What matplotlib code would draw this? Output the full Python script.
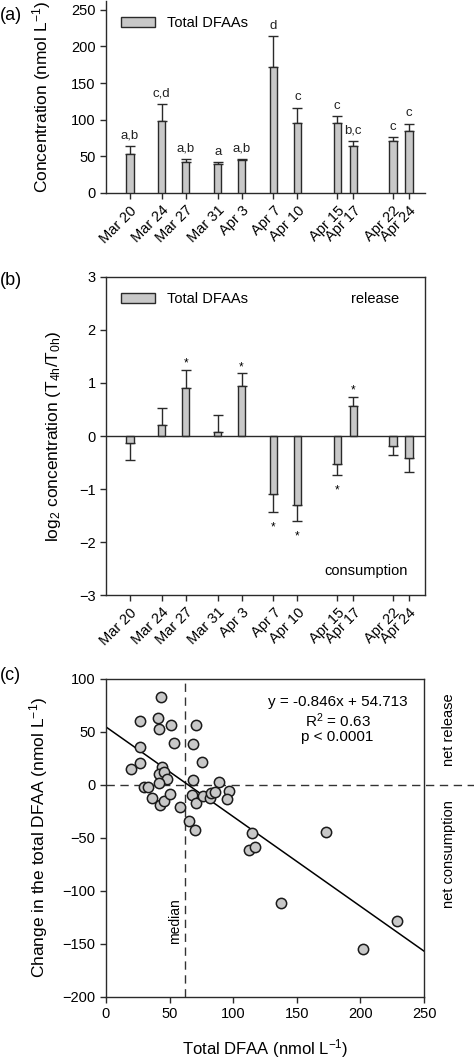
import numpy as np
import matplotlib.pyplot as plt
from matplotlib.patches import Patch

plt.rcParams['font.family'] = ['Liberation Sans', 'DejaVu Sans']
plt.rcParams['font.size'] = 10.5
plt.rcParams['axes.linewidth'] = 1.0
plt.rcParams['mathtext.default'] = 'regular'

# sampling dates (days after Mar 20)
dates = ['Mar 20', 'Mar 24', 'Mar 27', 'Mar 31', 'Apr 3', 'Apr 7',
         'Apr 10', 'Apr 15', 'Apr 17', 'Apr 22', 'Apr 24']
day = [0, 4, 7, 11, 14, 18, 21, 26, 28, 33, 35]

# (a) total DFAA concentration
conc = [53.5, 98.5, 42, 39, 45.5, 172.5, 95.5, 95.5, 63.5, 71, 84]
conc_err = [10.5, 22.5, 5, 3, 1.5, 41, 21, 9, 7, 5, 10.5]
letters = ['a,b', 'c,d', 'a,b', 'a', 'a,b', 'd', 'c', 'c', 'b,c', 'c', 'c']

# (b) log2 ratio T4h/T0h
log_ratio = [-0.13, 0.21, 0.905, 0.08, 0.95, -1.09, -1.30, -0.525, 0.57, -0.18, -0.42]
log_err = [0.33, 0.31, 0.335, 0.31, 0.23, 0.35, 0.31, 0.215, 0.17, 0.17, 0.26]
signif = [False, False, True, False, True, True, True, True, True, False, False]

# (c) change vs initial concentration
dfaa_x = [43.2, 41.1, 26.7, 41.9, 50.8, 70.7, 68.1, 53.1, 26.7, 75.1, 27.0, 19.4,
          44.2, 41.4, 45.8, 48.2, 41.9, 68.6, 88.5, 29.8, 33.0, 35.9, 42.4, 45.5,
          50.5, 58.1, 64.9, 70.2, 67.3, 70.7, 75.9, 81.4, 82.5, 85.6, 96.3, 95.0,
          114.7, 112.8, 117.5, 172.8, 137.4, 228.8, 202.1]
dfaa_change = [83.3, 63.5, 60.3, 52.8, 56.9, 56.2, 38.3, 39.6, 36.1, 21.7, 20.4, 15.1,
               17.0, 10.1, 12.6, 6.0, 1.6, 4.7, 2.5, -1.9, -1.9, -12.6, -18.8, -15.1,
               -8.8, -20.7, -33.9, -42.4, -9.4, -17.3, -10.4, -12.3, -7.2, -6.6, -5.7, -13.2,
               -44.9, -61.6, -58.1, -44.6, -111.8, -128.8, -154.3]
slope, intercept = -0.846, 54.713
median_dfaa = 62

bar_fc = '#c8c8c8'
edge = '#2a2a2a'

fig = plt.figure(figsize=(4.74, 10.58), dpi=100)
ax_a = fig.add_axes([0.2236, 0.8176, 0.673, 0.1815])
ax_b = fig.add_axes([0.2236, 0.4376, 0.673, 0.3006])
ax_c = fig.add_axes([0.2236, 0.0577, 0.671, 0.3006])

day = np.array(day)


def one_sided(vals, errs):
  lo = [e if v < 0 else 0 for v, e in zip(vals, errs)]
  hi = [e if v >= 0 else 0 for v, e in zip(vals, errs)]
  return [lo, hi]


# ---- (a)
ax_a.bar(day, conc, width=0.9, color=bar_fc, edgecolor=edge, linewidth=1.0, zorder=3)
ax_a.errorbar(day, conc, yerr=one_sided(conc, conc_err), fmt='none', ecolor=edge,
              elinewidth=1.0, capsize=3.5, capthick=1.0, zorder=2)
for d, v, e, l in zip(day, conc, conc_err, letters):
  ax_a.text(d, v + e + 6, l, ha='center', va='bottom', fontsize=9.5, color='#222')
ax_a.set_xlim(-3, 37)
ax_a.set_ylim(0, 262)
ax_a.set_yticks([0, 50, 100, 150, 200, 250])
ax_a.set_xticks(day)
ax_a.set_xticklabels(dates, rotation=45, ha='right', va='top', rotation_mode='anchor')
ax_a.spines['top'].set_visible(False)
ax_a.spines['right'].set_visible(False)
ax_a.set_ylabel('Concentration (nmol L$^{-1}$)', fontsize=12.5)
ax_a.yaxis.set_label_coords(-0.165, 0.5)
ax_a.legend(handles=[Patch(facecolor=bar_fc, edgecolor=edge, label='Total DFAAs')],
            loc='center left', bbox_to_anchor=(0.03, 0.885), frameon=False,
            handlelength=2.3, handleheight=0.65, fontsize=10.5, borderaxespad=0)

# ---- (b)
ax_b.axhline(0, color=edge, linewidth=1.0, zorder=4)
ax_b.bar(day, log_ratio, width=0.9, color=bar_fc, edgecolor=edge, linewidth=1.0, zorder=3)
ax_b.errorbar(day, log_ratio, yerr=one_sided(log_ratio, log_err), fmt='none', ecolor=edge,
              elinewidth=1.0, capsize=3.5, capthick=1.0, zorder=2)
for d, v, e, s in zip(day, log_ratio, log_err, signif):
  if not s:
    continue
  if v >= 0:
    ax_b.text(d, v + e + 0.12, '*', ha='center', va='center', fontsize=8.5)
  else:
    ax_b.text(d, v - e - 0.28, '*', ha='center', va='center', fontsize=8.5)
ax_b.text(0.92, 0.93, 'release', transform=ax_b.transAxes, ha='right', va='center', fontsize=10.5)
ax_b.text(0.945, 0.075, 'consumption', transform=ax_b.transAxes, ha='right', va='center', fontsize=10.5)
ax_b.set_xlim(-3, 37)
ax_b.set_ylim(-3, 3)
ax_b.set_yticks([-3, -2, -1, 0, 1, 2, 3])
ax_b.set_xticks(day)
ax_b.set_xticklabels(dates, rotation=45, ha='right', va='top', rotation_mode='anchor')
ax_b.set_ylabel('log$_2$ concentration (T$_{4h}$/T$_{0h}$)', fontsize=12.5)
ax_b.yaxis.set_label_coords(-0.135, 0.5)
ax_b.legend(handles=[Patch(facecolor=bar_fc, edgecolor=edge, label='Total DFAAs')],
            loc='center left', bbox_to_anchor=(0.03, 0.93), frameon=False,
            handlelength=2.3, handleheight=0.65, fontsize=10.5, borderaxespad=0)

# ---- (c)
fit_x = np.array([0, 250])
ax_c.plot(fit_x, slope * fit_x + intercept, color='black', linewidth=1.1, zorder=2)
ax_c.scatter(dfaa_x, dfaa_change, s=55, facecolor=bar_fc, edgecolor='#1a1a1a',
             linewidth=1.1, zorder=3)
ax_c.plot([0, 291], [0, 0], color='#333', linewidth=1.0, dashes=(6, 4), clip_on=False, zorder=1)
ax_c.axvline(median_dfaa, color='#333', linewidth=1.0, dashes=(6, 4), zorder=1)
ax_c.text(median_dfaa - 8, -128, 'median', rotation=90, ha='center', va='center', fontsize=10)
ax_c.text(182, 78, 'y = -0.846x + 54.713', ha='center', va='center', fontsize=11)
ax_c.text(182, 61, 'R$^2$ = 0.63', ha='center', va='center', fontsize=11)
ax_c.text(182, 45.5, 'p < 0.0001', ha='center', va='center', fontsize=11)
ax_c.text(1.08, 0.84, 'net release', transform=ax_c.transAxes, rotation=90,
          ha='center', va='center', fontsize=10.5)
ax_c.text(1.08, 0.45, 'net consumption', transform=ax_c.transAxes, rotation=90,
          ha='center', va='center', fontsize=10.5)
ax_c.set_xlim(0, 250)
ax_c.set_ylim(-200, 100)
ax_c.set_xticks([0, 50, 100, 150, 200, 250])
ax_c.set_yticks([-200, -150, -100, -50, 0, 50, 100])
ax_c.set_xlabel('Total DFAA (nmol L$^{-1}$)', fontsize=12)
ax_c.set_ylabel('Change in the total DFAA (nmol L$^{-1}$)', fontsize=12.5)
ax_c.yaxis.set_label_coords(-0.176, 0.5)
ax_c.xaxis.set_label_coords(0.5, -0.125)

for ax in (ax_a, ax_b, ax_c):
  ax.tick_params(direction='out', length=4, width=1.0, labelsize=10.5, color=edge)
  for sp in ax.spines.values():
    sp.set_color(edge)

fig.text(0.0, 0.985, '(a)', fontsize=13, va='center')
fig.text(0.0, 0.735, '(b)', fontsize=13, va='center')
fig.text(0.0, 0.362, '(c)', fontsize=13, va='center')

fig.savefig('out.png', dpi=100)
